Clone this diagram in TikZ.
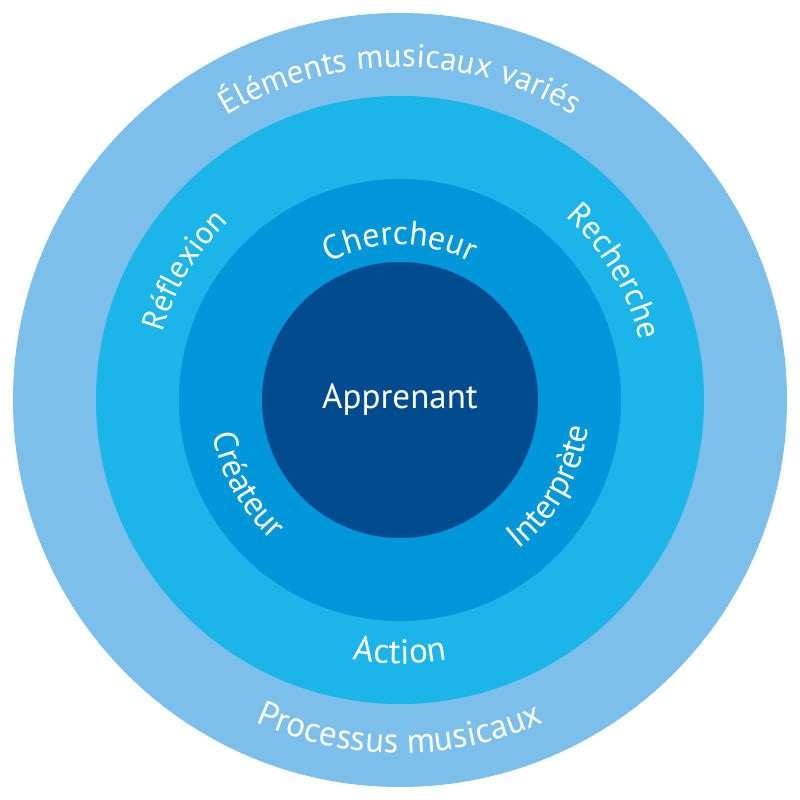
\documentclass[tikz,border=0pt]{standalone}
\usepackage{fontspec}
\setmainfont{PT Sans}
\usetikzlibrary{decorations.text}
\definecolor{ringA}{HTML}{7BBFEA}
\definecolor{ringB}{HTML}{1CB5EA}
\definecolor{ringC}{HTML}{0096DA}
\definecolor{ringD}{HTML}{004B8D}
\newcommand\ringfont[1]{\fontsize{#1}{#1}\selectfont\color{white}}
\tikzset{
  ringtext/.style n args={2}{decorate, decoration={text along path, text align=center,
     text={|\ringfont{#1}|#2}}},
  disc/.style={fill=#1, draw=none}
}
\begin{document}
\begin{tikzpicture}[x=1pt,y=1pt]
\useasboundingbox (0,0) rectangle (800,800);
\coordinate (c) at (400,400);
\fill[disc=ringA] (c) circle[radius=387];
\fill[disc=ringB] (c) circle[radius=304];
\fill[disc=ringC] (c) circle[radius=221];
\fill[disc=ringD] (c) circle[radius=138];
\node[text=white, font=\fontsize{35}{40}\selectfont] (app) at (400,400) {Apprenant};
% top texts (clockwise, tops outward)
\path[ringtext={33}{Éléments musicaux variés}] (c) ++(150:333) arc[start angle=150, end angle=30, radius=333];
\path[ringtext={34}{Chercheur}] (c) ++(150:155) arc[start angle=150, end angle=30, radius=155];
\path[ringtext={32}{Réflexion}] (c) ++(195:247) arc[start angle=195, end angle=103, radius=247];
\path[ringtext={33}{Recherche}] (c) ++(77:247) arc[start angle=77, end angle=-15, radius=247];
% bottom texts (counter-clockwise, tops inward)
\path[ringtext={35}{Processus musicaux}] (c) ++(210:353) arc[start angle=210, end angle=330, radius=353];
\path[ringtext={35}{Action}] (c) ++(220:264) arc[start angle=220, end angle=320, radius=264];
\path[ringtext={34}{Créateur}] (c) ++(156:190) arc[start angle=156, end angle=262, radius=190];
\path[ringtext={34}{Interprète}] (c) ++(278:191) arc[start angle=278, end angle=382, radius=191];
\end{tikzpicture}
\end{document}
